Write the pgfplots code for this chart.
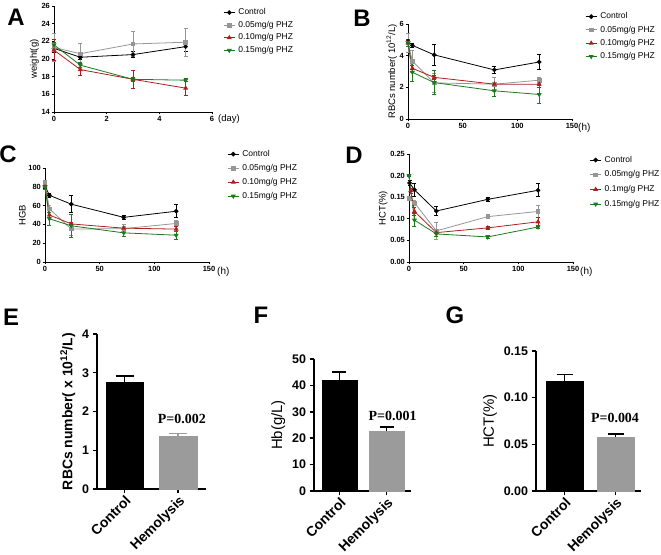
\documentclass[border=0pt]{standalone}
\usepackage{fontspec}
\setmainfont{Liberation Sans}
\newfontfamily\timesfont{Liberation Serif}
\usepackage{pgfplots}
\pgfplotsset{compat=1.18}
\definecolor{cgray}{RGB}{150,150,150}
\definecolor{cred}{RGB}{175,30,30}
\definecolor{cgreen}{RGB}{30,120,30}
\definecolor{bgray}{RGB}{155,155,155}
\tikzset{pv/.style={font=\timesfont\bfseries\fontsize{14}{14}\selectfont}}
\pgfplotsset{
  lc/.style={scale only axis, clip=false, axis x line*=bottom, axis y line*=left,
    axis line style={line width=0.8pt,-}, tick align=outside, major tick length=2.5pt,
    tick style={black, line width=0.8pt},
    ticklabel style={font=\bfseries\fontsize{7.5}{8}\selectfont, inner sep=1.5pt},
    /pgf/number format/assume math mode=true,
    ylabel style={font=\fontsize{9.5}{11}\selectfont, inner sep=1pt},
    legend style={draw=none, fill=none, anchor=north west, font=\fontsize{8.5}{10}\selectfont,
      inner sep=0pt, nodes={inner sep=0.5pt, text height=6.5bp, text depth=2bp}, column sep=2.5bp},
    legend cell align=left,
    legend image code/.code={\draw[mark repeat=2,mark phase=2] plot coordinates {(0cm,0cm) (0.2cm,0cm) (0.4cm,0cm)};},
  },
  eb/.style={error bars/.cd, y dir=both, y explicit, error bar style={line width=0.9pt},
    error mark options={rotate=90, mark size=2pt, line width=0.9pt}},
  ctrl/.style={black, line width=0.8pt, mark=*, mark size=1.9pt},
  pa/.style={cgray, line width=0.8pt, mark=square*, mark size=1.8pt},
  pb/.style={cred, line width=0.8pt, mark=triangle*, mark size=2.1pt},
  pc/.style={cgreen, line width=0.8pt, mark=triangle*, mark size=2.1pt, mark options={rotate=180}},
  bc/.style={scale only axis, clip=false, axis x line*=bottom, axis y line*=left,
    axis line style={line width=1.5pt,-}, tick align=outside, major tick length=4.5pt,
    tick style={black, line width=1.5pt}, ymin=0,
    yticklabel style={font=\bfseries\fontsize{12.5}{13}\selectfont},
    xticklabel style={font=\bfseries\fontsize{14}{15}\selectfont, rotate=45, anchor=north east, inner sep=0.5pt},
    /pgf/number format/assume math mode=true,
    xtick={0,1}, xticklabels={Control,Hemolysis},
    ylabel style={font=\fontsize{15}{16}\selectfont}},
}
\begin{document}
\begin{tikzpicture}
\useasboundingbox (0bp,0bp) rectangle (661bp,555bp);
% panel letters
\node[font=\bfseries\fontsize{24}{24}\selectfont] at (16bp,538bp) {A};
\node[font=\bfseries\fontsize{24}{24}\selectfont] at (362bp,537bp) {B};
\node[font=\bfseries\fontsize{24}{24}\selectfont] at (8bp,401bp) {C};
\node[font=\bfseries\fontsize{24}{24}\selectfont] at (354bp,400bp) {D};
\node[font=\bfseries\fontsize{24}{24}\selectfont] at (11bp,238bp) {E};
\node[font=\bfseries\fontsize{24}{24}\selectfont] at (261bp,240bp) {F};
\node[font=\bfseries\fontsize{24}{24}\selectfont] at (455bp,240bp) {G};

% ---------- A ----------
\begin{axis}[lc, at={(54bp,443bp)}, anchor=south west, width=158bp, height=106bp,
  xmin=0, xmax=6, ymin=14, ymax=26, xtick={0,2,4,6}, ytick={14,16,...,26},
  ylabel={weight(g)},
  legend style={at={(1.07,0.985)}, row sep=3.1bp}]
\addplot[ctrl, eb] coordinates {(0,21.2) +- (0,0.5) (1,20.2) +- (0,0.3) (3,20.5) +- (0,0.3) (5,21.4) +- (0,0.5)};
\addplot[pa, eb] coordinates {(0,21.3) +- (0,1.6) (1,20.6) +- (0,1.2) (3,21.7) +- (0,1.4) (5,21.9) +- (0,1.6)};
\addplot[pb, eb] coordinates {(0,21.0) +- (0,1.2) (1,18.8) +- (0,0.7) (3,17.7) +- (0,1.0) (5,16.7) +- (0,0.8)};
\addplot[pc, eb] coordinates {(0,21.6) +- (0,0.3) (1,19.3) +- (0,0.3) (3,17.7) +- (0,0.2) (5,17.6) +- (0,0.15)};
\legend{Control,0.05mg/g PHZ,0.10mg/g PHZ,0.15mg/g PHZ}
\node[anchor=west, font=\fontsize{9.5}{11}\selectfont, inner sep=0pt] at (rel axis cs:1,0) [xshift=6bp, yshift=-7.5bp] {(day)};
\end{axis}

% ---------- B ----------
\begin{axis}[lc, at={(408bp,436bp)}, anchor=south west, width=164bp, height=95bp,
  xmin=0, xmax=150, ymin=0, ymax=6, xtick={0,50,100,150}, ytick={0,2,4,6},
  ylabel={RBCs number( 10\textsuperscript{12}/L)},
  legend style={at={(1.079,1.13)}, row sep=3.8bp}]
\addplot[ctrl, eb] coordinates {(0,4.9) +- (0,0.1) (4,4.65) +- (0,0.1) (24,4.05) +- (0,0.65) (79,3.1) +- (0,0.25) (120,3.6) +- (0,0.5)};
\addplot[pa, eb] coordinates {(0,4.8) +- (0,0.6) (4,3.65) +- (0,0.7) (24,2.28) +- (0,0.6) (79,2.2) +- (0,0.45) (120,2.45) +- (0,0.2)};
\addplot[pb, eb] coordinates {(0,4.8) +- (0,0.2) (4,3.2) +- (0,0.2) (24,2.63) +- (0,0.15) (79,2.2) +- (0,0.1) (120,2.2) +- (0,0.2)};
\addplot[pc, eb] coordinates {(0,4.8) +- (0,0.2) (4,2.95) +- (0,0.6) (24,2.3) +- (0,0.75) (79,1.78) +- (0,0.35) (120,1.55) +- (0,0.55)};
\legend{Control,0.05mg/g PHZ,0.10mg/g PHZ,0.15mg/g PHZ}
\node[anchor=west, font=\fontsize{10}{11}\selectfont, inner sep=0pt] at (rel axis cs:1,0) [xshift=6bp, yshift=-9bp] {(h)};
\end{axis}

% ---------- C ----------
\begin{axis}[lc, at={(45bp,293bp)}, anchor=south west, width=164bp, height=94bp,
  xmin=0, xmax=150, ymin=0, ymax=100, xtick={0,50,100,150}, ytick={0,20,...,100},
  ylabel={HGB},
  legend style={at={(1.11,1.20)}, row sep=4.5bp}]
\addplot[ctrl, eb] coordinates {(0,81) +- (0,3) (4,71) +- (0,2) (24,61.5) +- (0,9) (72,47.5) +- (0,2) (120,54) +- (0,7)};
\addplot[pa, eb] coordinates {(0,84) +- (0,3) (4,56.5) +- (0,4) (24,35) +- (0,7) (72,35.5) +- (0,4) (120,41) +- (0,3)};
\addplot[pb, eb] coordinates {(0,80) +- (0,3) (4,50) +- (0,3) (24,40.5) +- (0,2) (72,36) +- (0,2) (120,35) +- (0,3)};
\addplot[pc, eb] coordinates {(0,80) +- (0,3) (4,46) +- (0,7) (24,38.5) +- (0,12) (72,31) +- (0,4) (120,28.5) +- (0,4)};
\legend{Control,0.05mg/g PHZ,0.10mg/g PHZ,0.15mg/g PHZ}
\node[anchor=west, font=\fontsize{10}{11}\selectfont, inner sep=0pt] at (rel axis cs:1,0) [xshift=8bp, yshift=-10bp] {(h)};
\end{axis}

% ---------- D ----------
\begin{axis}[lc, at={(409bp,293bp)}, anchor=south west, width=164bp, height=108bp,
  xmin=0, xmax=150, ymin=0, ymax=0.25, xtick={0,50,100,150}, ytick={0,0.05,0.1,0.15,0.2,0.25},
  yticklabel style={/pgf/number format/.cd, fixed, fixed zerofill, precision=2},
  ylabel={HCT(\%)},
  legend style={at={(1.10,0.99)}, row sep=5.2bp}]
\addplot[ctrl, eb] coordinates {(0.5,0.183) +- (0,0.006) (5,0.167) +- (0,0.015) (25,0.118) +- (0,0.01) (72,0.145) +- (0,0.005) (118,0.166) +- (0,0.015)};
\addplot[pa, eb] coordinates {(0,0.147) +- (0,0.005) (5,0.137) +- (0,0.005) (25,0.072) +- (0,0.02) (72,0.105) +- (0,0.003) (118,0.117) +- (0,0.013)};
\addplot[pb, eb] coordinates {(1.5,0.165) +- (0,0.006) (5,0.117) +- (0,0.01) (25,0.068) +- (0,0.008) (72,0.079) +- (0,0.004) (118,0.093) +- (0,0.01)};
\addplot[pc, eb] coordinates {(0,0.2) +- (0,0.003) (5,0.097) +- (0,0.015) (25,0.065) +- (0,0.005) (72,0.058) +- (0,0.003) (118,0.081) +- (0,0.004)};
\legend{Control,0.05mg/g PHZ,0.1mg/g PHZ,0.15mg/g PHZ}
\node[anchor=west, font=\fontsize{10}{11}\selectfont, inner sep=0pt] at (rel axis cs:1,0) [xshift=7bp, yshift=-10bp] {(h)};
\end{axis}

% ---------- E ----------
\begin{axis}[bc, at={(97bp,66bp)}, anchor=south west, width=109bp, height=155bp,
  xmin=-0.515, xmax=1.52, ymax=4, ytick={0,1,2,3,4},
  ylabel={\bfseries RBCs number( x 10\textsuperscript{12}/L)}, ylabel style={font=\fontsize{14}{15}\selectfont}]
\addplot[ybar, bar width=37bp, fill=black, draw=black, error bars/.cd, y dir=plus, y explicit,
  error bar style={black, line width=1.6pt}, error mark options={rotate=90, black, mark size=9bp, line width=1.6pt}]
  coordinates {(0,2.75) +- (0,0.17)};
\addplot[ybar, bar width=38bp, fill=bgray, draw=bgray, error bars/.cd, y dir=plus, y explicit,
  error bar style={bgray, line width=1.6pt}, error mark options={rotate=90, bgray, mark size=9bp, line width=1.6pt}]
  coordinates {(1,1.35) +- (0,0.08)};
\node[pv] at (axis cs:1.07,1.81) {P=0.002};
\end{axis}

% ---------- F ----------
\begin{axis}[bc, at={(314bp,64bp)}, anchor=south west, width=97bp, height=132bp,
  xmin=-0.54, xmax=1.52, ymax=50, ytick={0,10,...,50},
  ylabel={Hb(g/L)}]
\addplot[ybar, bar width=35bp, fill=black, draw=black, error bars/.cd, y dir=plus, y explicit,
  error bar style={black, line width=1.6pt}, error mark options={rotate=90, black, mark size=7bp, line width=1.6pt}]
  coordinates {(0,41.8) +- (0,3.2)};
\addplot[ybar, bar width=35bp, fill=bgray, draw=bgray, error bars/.cd, y dir=plus, y explicit,
  error bar style={black, line width=1.6pt}, error mark options={rotate=90, black, mark size=7bp, line width=1.6pt}]
  coordinates {(1,22.8) +- (0,1.5)};
\node[pv] at (axis cs:1.13,28.5) {P=0.001};
\end{axis}

% ---------- G ----------
\begin{axis}[bc, at={(536bp,64bp)}, anchor=south west, width=105bp, height=140bp,
  xmin=-0.56, xmax=1.5, ymax=0.15, ytick={0,0.05,0.10,0.15},
  yticklabel style={/pgf/number format/.cd, fixed, fixed zerofill, precision=2},
  ylabel={HCT(\%)}]
\addplot[ybar, bar width=37bp, fill=black, draw=black, error bars/.cd, y dir=plus, y explicit,
  error bar style={black, line width=1.6pt}, error mark options={rotate=90, black, mark size=8bp, line width=1.6pt}]
  coordinates {(0,0.118) +- (0,0.007)};
\addplot[ybar, bar width=37bp, fill=bgray, draw=bgray, error bars/.cd, y dir=plus, y explicit,
  error bar style={black, line width=1.6pt}, error mark options={rotate=90, black, mark size=8bp, line width=1.6pt}]
  coordinates {(1,0.058) +- (0,0.003)};
\node[pv] at (axis cs:0.99,0.078) {P=0.004};
\end{axis}
\end{tikzpicture}
\end{document}
